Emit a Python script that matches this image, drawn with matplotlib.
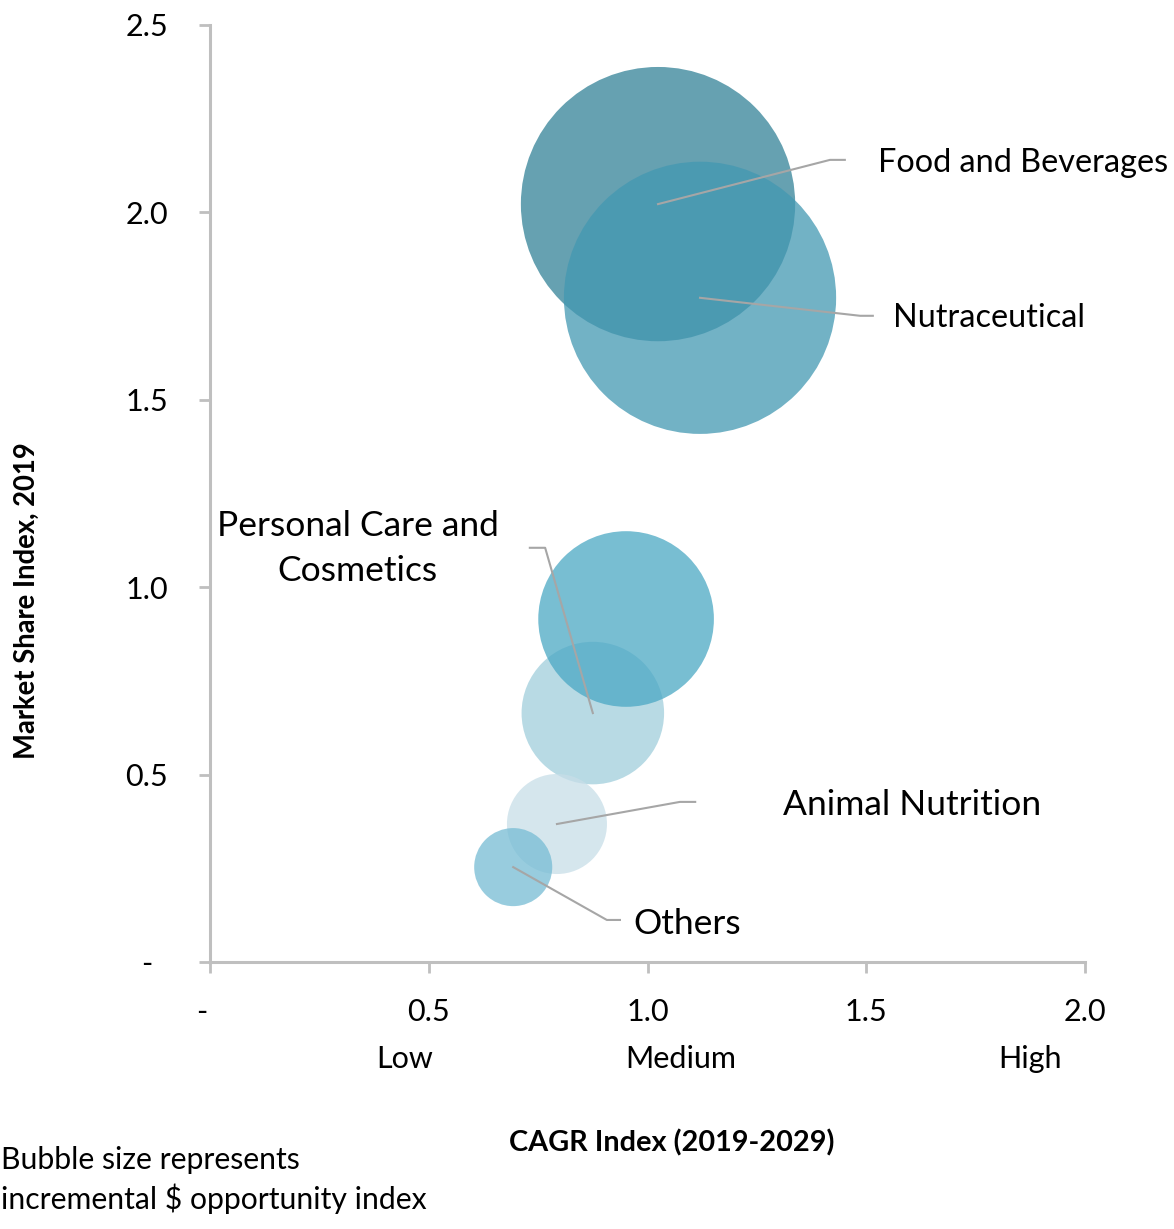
import matplotlib
matplotlib.use('Agg')
import matplotlib.pyplot as plt
import matplotlib.transforms as mtransforms

plt.rcParams['font.family'] = ['Lato', 'DejaVu Sans']

# data
segments = ['Food and Beverages', 'Nutraceutical', 'Personal Care and\nCosmetics',
            None, 'Animal Nutrition', 'Others']
cagr_index = [1.024, 1.120, 0.875, 0.951, 0.793, 0.693]
share_index = [2.022, 1.772, 0.664, 0.915, 0.368, 0.253]
opportunity = [100.0, 98.5, 27.0, 41.0, 13.3, 8.1]
colors = ['#338297', '#4398B2', '#A0CEDC', '#4BA8C4', '#C7DEE8', '#76BCD4']

x_ticks = [0, 0.5, 1.0, 1.5, 2.0]
x_tick_labels = ['-  ', '0.5', '1.0', '1.5', '2.0']
y_ticks = [0, 0.5, 1.0, 1.5, 2.0, 2.5]
y_tick_labels = ['-  ', '0.5', '1.0', '1.5', '2.0', '2.5']
growth_levels = ['Low', 'Medium', 'High']
growth_pos = [0.446, 1.077, 1.874]

# label layout: (elbow x, elbow y, end x, text x, text y, ha, size)
label_layout = [
    (1.417, 2.140, 1.451, 1.527, 2.132, 'left', 23.3),
    (1.486, 1.724, 1.515, 1.561, 1.718, 'left', 23.3),
    (0.766, 1.105, 0.731, 0.338, 1.102, 'center', 25.5),
    None,
    (1.074, 0.427, 1.109, 1.310, 0.419, 'left', 25.5),
    (0.907, 0.112, 0.937, 0.967, 0.101, 'left', 25.5),
]
SIZE_SCALE = 390
LINE = '#A6A6A6'
AXIS = '#BFBFBF'

fig = plt.figure(figsize=(11.74, 12.29), dpi=100, facecolor='white')
ax = fig.add_axes([0.1789, 0.2173, 0.7453, 0.7624])

for x, y, o, c in zip(cagr_index, share_index, opportunity, colors):
    ax.scatter(x, y, s=o * SIZE_SCALE, color=c, alpha=0.75, edgecolors='none', zorder=2)

for name, x, y, lay in zip(segments, cagr_index, share_index, label_layout):
    if name is None:
        continue
    ex, ey, endx, tx, ty, ha, fs = lay
    ax.plot([x, ex, endx], [y, ey, ey], color=LINE, lw=1.5, zorder=3, clip_on=False)
    ax.text(tx, ty, name, ha=ha, va='center', fontsize=fs, color='black',
            linespacing=1.5, zorder=4)

ax.set_xlim(0, 2.0)
ax.set_ylim(0, 2.5)
ax.set_xticks(x_ticks)
ax.set_xticklabels(x_tick_labels)
ax.set_yticks(y_ticks)
ax.set_yticklabels(y_tick_labels)
ax.tick_params(axis='both', direction='out', length=8, width=2, color=AXIS,
               labelsize=22, labelcolor='black')
ax.tick_params(axis='x', pad=18)
ax.tick_params(axis='y', pad=22)
for s in ['top', 'right']:
    ax.spines[s].set_visible(False)
for s in ['left', 'bottom']:
    ax.spines[s].set_color(AXIS)
    ax.spines[s].set_linewidth(2.2)

trans = mtransforms.blended_transform_factory(ax.transData, ax.transAxes)
for lvl, px in zip(growth_levels, growth_pos):
    ax.text(px, -0.1035, lvl, transform=trans, ha='center', va='center', fontsize=22)

ax.text(0.528, -0.193, 'CAGR Index (2019-2029)', transform=ax.transAxes,
        ha='center', va='center', fontsize=20.8, fontweight='bold')
ax.text(-0.209, 0.386, 'Market Share Index, 2019', transform=ax.transAxes,
        ha='center', va='center', rotation=90, fontsize=19.8, fontweight='bold')

fig.text(0.001, 1 - 1180 / 1229, 'Bubble size represents\nincremental $ opportunity index',
         ha='left', va='center', fontsize=21.7, linespacing=1.4)

fig.savefig('out.png', dpi=100, facecolor='white')
